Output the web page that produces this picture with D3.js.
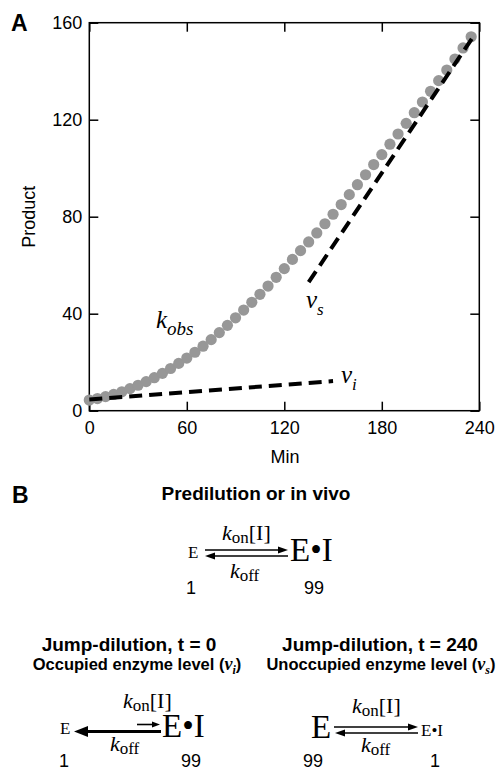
<!DOCTYPE html>
<html>
<head>
<meta charset="utf-8">
<script src="https://cdn.jsdelivr.net/npm/d3@7"></script>
<style>
body { margin: 0; background: #fff; }
</style>
</head>
<body>
<div id="chart"></div>
<script>
// data
var minutes = [0, 5, 10, 15, 20, 25, 30, 35, 40, 45, 50, 55, 60, 65, 70, 75, 80, 85, 90, 95,
    100, 105, 110, 115, 120, 125, 130, 135, 140, 145, 150, 155, 160, 165, 170, 175, 180, 185,
    190, 195, 200, 205, 210, 215, 220, 225, 230, 235];
var product = [4.4, 5.0, 5.8, 6.7, 7.8, 9.1, 10.5, 12.0, 13.6, 15.4, 17.4, 19.5, 21.7, 24.1,
    26.6, 29.3, 32.2, 35.2, 38.3, 41.5, 44.7, 48.0, 51.4, 55.0, 58.6, 62.4, 66.0, 69.6, 73.3,
    77.1, 81.0, 85.0, 89.1, 93.2, 97.3, 101.5, 105.6, 109.9, 114.1, 118.5, 122.9, 127.3, 131.7,
    136.1, 140.5, 145.0, 149.6, 154.2];
var xTicks = [0, 60, 120, 180, 240];
var yTicks = [0, 40, 80, 120, 160];
var viLine = [[0, 4.6], [150, 12.2]];
var vsLine = [[135, 53], [237, 155]];

var sans = "'Liberation Sans', Arial, sans-serif";
var serif = "'Liberation Serif', 'Times New Roman', serif";

var svg = d3.select("#chart")
    .append("svg")
    .attr("width", 499)
    .attr("height", 770);

var x = d3.scaleLinear().domain([0, 240]).range([89.3, 479.3]);
var y = d3.scaleLinear().domain([0, 160]).range([410.7, 22.7]);

// axes, ticks pointing inward
function styleAxis(sel) {
    sel.select(".domain").remove();
    sel.selectAll("line").attr("stroke", "#000").attr("stroke-width", 1.5);
    sel.selectAll("text").attr("font-family", sans).attr("font-size", "18px").attr("fill", "#000");
}
svg.append("g")
    .attr("transform", "translate(0," + y(0) + ")")
    .call(d3.axisBottom(x).tickValues(xTicks).tickSize(-9).tickSizeOuter(0).tickPadding(10.5))
    .call(styleAxis);
svg.append("g")
    .attr("transform", "translate(0," + y(160) + ")")
    .call(d3.axisTop(x).tickValues(xTicks).tickSize(-9).tickSizeOuter(0).tickFormat(""))
    .call(styleAxis);
svg.append("g")
    .attr("transform", "translate(" + x(0) + ",0)")
    .call(d3.axisLeft(y).tickValues(yTicks).tickSize(-9).tickSizeOuter(0).tickPadding(7))
    .call(styleAxis);
svg.append("g")
    .attr("transform", "translate(" + x(240) + ",0)")
    .call(d3.axisRight(y).tickValues(yTicks).tickSize(-9).tickSizeOuter(0).tickFormat(""))
    .call(styleAxis);

svg.append("rect")
    .attr("x", x(0)).attr("y", y(160))
    .attr("width", x(240) - x(0)).attr("height", y(0) - y(160))
    .attr("fill", "none").attr("stroke", "#000").attr("stroke-width", 1.5);

// points
svg.append("g").selectAll("circle")
    .data(minutes)
    .enter().append("circle")
    .attr("cx", function(d) { return x(d); })
    .attr("cy", function(d, i) { return y(product[i]); })
    .attr("r", 5.6)
    .attr("fill", "#979797");

// dashed rate lines
var line = d3.line()
    .x(function(d) { return x(d[0]); })
    .y(function(d) { return y(d[1]); });
[viLine, vsLine].forEach(function(l) {
    svg.append("path")
        .attr("d", line(l))
        .attr("fill", "none")
        .attr("stroke", "#000")
        .attr("stroke-width", 4)
        .attr("stroke-dasharray", "13,7");
});

// axis titles
svg.append("text")
    .attr("x", 285).attr("y", 463)
    .attr("text-anchor", "middle")
    .attr("font-family", sans).attr("font-size", "18px")
    .text("Min");
svg.append("text")
    .attr("transform", "translate(35," + ((y(0) + y(160)) / 2) + ") rotate(-90)")
    .attr("text-anchor", "middle")
    .attr("font-family", sans).attr("font-size", "18px")
    .text("Product");

// panel letters
svg.append("text").attr("x", 11).attr("y", 31)
    .attr("font-family", sans).attr("font-size", "23px").attr("font-weight", "bold").text("A");
svg.append("text").attr("x", 12).attr("y", 503)
    .attr("font-family", sans).attr("font-size", "23px").attr("font-weight", "bold").text("B");

// italic labels with subscript
function symbol(px, py, main, sub, size, subSize, subDy) {
    var t = svg.append("text")
        .attr("x", px).attr("y", py)
        .attr("font-family", serif).attr("font-style", "italic")
        .attr("font-size", size + "px");
    t.append("tspan").text(main);
    t.append("tspan").attr("dy", subDy).attr("font-size", subSize + "px").text(sub);
}
symbol(156, 328, "k", "obs", 25, 19, 7);
symbol(306, 308, "v", "s", 25, 17, 7);
symbol(341, 383, "v", "i", 25, 17, 7);

// panel B
function title(px, py, txt, size) {
    svg.append("text").attr("x", px).attr("y", py)
        .attr("text-anchor", "middle")
        .attr("font-family", sans).attr("font-size", size + "px").attr("font-weight", "bold")
        .text(txt);
}
function subtitle(px, py, txt, sub) {
    var t = svg.append("text").attr("x", px).attr("y", py)
        .attr("text-anchor", "middle")
        .attr("font-family", sans).attr("font-size", "16.5px").attr("font-weight", "bold");
    t.append("tspan").text(txt + " (");
    t.append("tspan").attr("font-family", serif).attr("font-style", "italic").attr("font-size", "18px").text("v");
    t.append("tspan").attr("font-family", serif).attr("font-style", "italic").attr("font-size", "12px")
        .attr("dy", 4).text(sub);
    t.append("tspan").attr("dy", -4).text(")");
}
title(256, 500, "Predilution or in vivo", 19);
title(129, 651, "Jump-dilution, t = 0", 19);
title(380, 651, "Jump-dilution, t = 240", 19);
subtitle(137, 670, "Occupied enzyme level", "i");
subtitle(381, 670, "Unoccupied enzyme level", "s");

function species(px, py, txt, size) {
    svg.append("text").attr("x", px).attr("y", py)
        .attr("font-family", serif).attr("font-size", size + "px").text(txt);
}
function rate(px, py, sub, extra) {
    var t = svg.append("text").attr("x", px).attr("y", py)
        .attr("font-family", serif).attr("font-size", "22px");
    t.append("tspan").attr("font-style", "italic").text("k");
    t.append("tspan").attr("font-size", "17px").attr("dy", 3).text(sub);
    if (extra) t.append("tspan").attr("dy", -3).text(extra);
}
function count(px, py, txt) {
    svg.append("text").attr("x", px).attr("y", py)
        .attr("text-anchor", "middle")
        .attr("font-family", sans).attr("font-size", "18px").text(txt);
}
// arrow from x1 to x2 (head at x2)
function arrow(x1, x2, yy, w, hl, hw) {
    var dir = x2 > x1 ? 1 : -1;
    svg.append("line")
        .attr("x1", x1).attr("x2", x2 - dir * hl * 0.8)
        .attr("y1", yy).attr("y2", yy)
        .attr("stroke", "#000").attr("stroke-width", w);
    svg.append("polygon")
        .attr("points", [[x2, yy], [x2 - dir * hl, yy - hw], [x2 - dir * hl, yy + hw]].join(" "))
        .attr("fill", "#000");
}

// predilution
species(188, 558, "E", 17);
arrow(205, 288, 550, 1.6, 10, 3.4);
arrow(288, 205, 556, 1.6, 10, 3.4);
rate(222, 540, "on", "[I]");
species(290, 561, "E\u2022I", 33);
rate(230, 578, "off");
count(191, 594, "1");
count(314, 594, "99");

// jump dilution, t = 0
species(60, 734, "E", 17);
arrow(161, 74, 731.5, 3.2, 14, 5.5);
arrow(137, 160, 724.5, 1.6, 8, 3);
rate(123, 708, "on", "[I]");
species(162, 737, "E\u2022I", 33);
rate(110, 751, "off");
count(64, 767, "1");
count(191, 767, "99");

// jump dilution, t = 240
species(311, 738, "E", 33);
arrow(334, 418, 727, 1.6, 10, 3.4);
arrow(418, 335, 733, 1.6, 10, 3.4);
rate(352, 713, "on", "[I]");
species(421, 736, "E\u2022I", 17);
rate(361, 752, "off");
count(313, 767, "99");
count(435, 767, "1");
</script>
</body>
</html>
